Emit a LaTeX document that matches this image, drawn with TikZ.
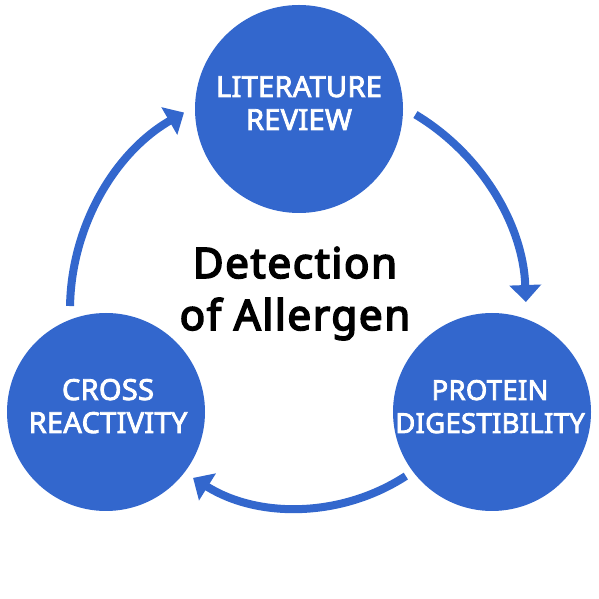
\documentclass[tikz,border=0pt]{standalone}
\usepackage{fontspec}
\setmainfont{Noto Sans}
\newfontfamily\labelfont[FakeBold=2.8,LetterSpace=1]{Noto Sans}
\newfontfamily\titlefont[FakeBold=4,LetterSpace=4]{Noto Sans}
\usetikzlibrary{arrows.meta}
\definecolor{cblue}{RGB}{51,103,205}
\tikzset{
  stepcircle/.style={circle, fill=cblue, draw=none, inner sep=0pt},
  steplabel/.style={text=white, font=\labelfont\fontsize{27.5}{33}\selectfont, anchor=base, inner sep=0pt},
  biglabel/.style={steplabel, font=\labelfont\fontsize{29}{33}\selectfont},
  titletext/.style={text=black, font=\titlefont\fontsize{42}{50}\selectfont, anchor=base, inner sep=0pt},
  cyclearrow/.style={draw=cblue, line width=8pt, -{Triangle[width=31pt,length=17pt]}}
}
\begin{document}
\begin{tikzpicture}[x=1pt,y=1pt]
\useasboundingbox (0,0) rectangle (599,599);
\coordinate (C) at (298,289);
% circles
\node[stepcircle, minimum size=208pt] (lit) at (299,490) {};
\node[stepcircle, minimum size=198pt] (cross) at (106,187) {};
\node[stepcircle, minimum size=198pt] (prot) at (492,187) {};
% labels
\node[biglabel] (l1) at (299,502) {LITERATURE};
\node[biglabel] (l2) at (299,469) {REVIEW};
\node[biglabel] (c1) at (108,199) {CROSS};
\node[biglabel] (c2) at (108,166) {REACTIVITY};
\node[steplabel] (p1) at (490,199) {PROTEIN};
\node[steplabel] (p2) at (490,166) {DIGESTIBILITY};
% title
\node[titletext] (t1) at (295,321) {Detection};
\node[titletext] (t2) at (295,269) {of Allergen};
% arrows
\coordinate (a1) at ([shift={(59:228)}]C);
\coordinate (a2) at ([shift={(179:228)}]C);
\coordinate (a3) at ([shift={(-57:198)}]C);
\draw[cyclearrow] (a1) arc[start angle=59, end angle=2, radius=228];
\draw[cyclearrow] (a3) arc[start angle=-57, end angle=-122, radius=198];
\draw[cyclearrow] (a2) arc[start angle=179, end angle=120, radius=228];
\end{tikzpicture}
\end{document}
